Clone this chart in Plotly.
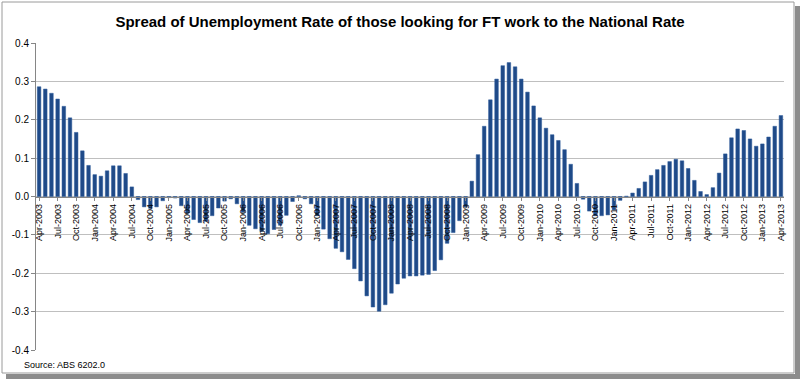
import plotly.graph_objects as go
import pandas as pd

# Categories: monthly, Apr-2003 .. Apr-2013
months = [d.strftime("%b-%Y") for d in pd.date_range("2003-04-01", "2013-04-01", freq="MS")]

# Spread (percentage points)
spread = [
    0.286, 0.280, 0.269, 0.254, 0.235, 0.205, 0.167, 0.119, 0.081, 0.057, 0.053, 0.067, 0.080, 0.080, 0.060, 0.025,
    -0.008, -0.027, -0.031, -0.027, -0.011, -0.003, -0.004, -0.024, -0.043, -0.060, -0.068, -0.065, -0.050, -0.030, -0.012, -0.006,
    -0.019, -0.041, -0.075, -0.084, -0.091, -0.097, -0.086, -0.075, -0.049, -0.013, 0.002, -0.006, -0.019, -0.050, -0.085, -0.110,
    -0.135, -0.144, -0.164, -0.188, -0.220, -0.259, -0.288, -0.299, -0.282, -0.252, -0.228, -0.213, -0.207, -0.207, -0.205, -0.203,
    -0.193, -0.165, -0.122, -0.094, -0.063, -0.027, 0.040, 0.109, 0.183, 0.252, 0.306, 0.341, 0.349, 0.338, 0.306, 0.272,
    0.236, 0.205, 0.178, 0.161, 0.146, 0.122, 0.084, 0.034, -0.007, -0.038, -0.050, -0.050, -0.048, -0.035, -0.010, 0.001,
    0.009, 0.021, 0.038, 0.055, 0.070, 0.081, 0.091, 0.097, 0.093, 0.073, 0.042, 0.013, 0.005, 0.023, 0.061, 0.111,
    0.153, 0.176, 0.172, 0.150, 0.131, 0.137, 0.155, 0.183, 0.211,
]

tick_labels = months[::3]
y_ticks = [0.4, 0.3, 0.2, 0.1, 0.0, -0.1, -0.2, -0.3, -0.4]

title_text = "Spread of Unemployment Rate of those looking for FT work to the National Rate"
source_text = "Source: ABS 6202.0"

fig = go.Figure()
fig.add_trace(go.Bar(
    x=months, y=spread,
    marker=dict(color="#1F4A88", line=dict(color="#2C5A9A", width=0.5)),
))

W, H = 800, 379
L, R, T, B = 36, 16, 43, 29
pw, ph = W - L - R, H - T - B


def px(x):
    return (x - L) / pw


def py(y):
    return (H - B - y) / ph


fig.update_layout(
    width=W, height=H,
    paper_bgcolor="white", plot_bgcolor="white",
    margin=dict(l=L, r=R, t=T, b=B, autoexpand=False),
    showlegend=False,
    bargap=0.42,
    title=dict(text="<b>" + title_text + "</b>", x=0.5, xanchor="center",
               y=1 - 22 / H, yanchor="middle", automargin=False,
               font=dict(family="Liberation Sans, Arial", size=15, color="#000000")),
    font=dict(family="Liberation Sans, Arial", color="#000000"),
    xaxis=dict(
        type="category", automargin=False,
        tickmode="array", tickvals=tick_labels, ticktext=tick_labels,
        tickangle=-90, tickfont=dict(size=9, family="Liberation Sans, Arial"),
        anchor="free", position=0.5,
        showline=True, linecolor="#868686", linewidth=1,
        ticks="outside", ticklen=3, tickcolor="#868686",
        showgrid=False, zeroline=False,
        range=[-0.5, len(months) - 0.5],
    ),
    yaxis=dict(
        range=[-0.4, 0.4], automargin=False,
        tickmode="array", tickvals=y_ticks, ticktext=[f"{v:.1f}" for v in y_ticks],
        tickfont=dict(size=10, family="Liberation Sans, Arial"),
        showgrid=True, gridcolor="#BFBFBF", gridwidth=1,
        showline=True, linecolor="#868686", linewidth=1,
        ticks="outside", ticklen=4, tickcolor="#868686",
        zeroline=False,
    ),
)

# Chart border and shadow (pixel positions converted to paper coords)
fig.add_shape(type="rect", xref="paper", yref="paper",
              x0=px(795), x1=px(800), y0=py(377), y1=py(6),
              line=dict(width=0), fillcolor="#8C8C8C", layer="above")
fig.add_shape(type="rect", xref="paper", yref="paper",
              x0=px(6), x1=px(800), y0=py(379), y1=py(374),
              line=dict(width=0), fillcolor="#8C8C8C", layer="above")
fig.add_shape(type="rect", xref="paper", yref="paper",
              x0=px(2), x1=px(794), y0=py(373), y1=py(2),
              line=dict(color="#9A9A9A", width=1), layer="above")

fig.add_annotation(text=source_text, xref="paper", yref="paper", x=px(22), y=py(365),
                   xanchor="left", yanchor="middle", showarrow=False,
                   font=dict(size=9, family="Liberation Sans, Arial", color="#000000"))

fig.write_html("out.html", config={"displayModeBar": False},
               post_script="document.body.style.margin='0';")
